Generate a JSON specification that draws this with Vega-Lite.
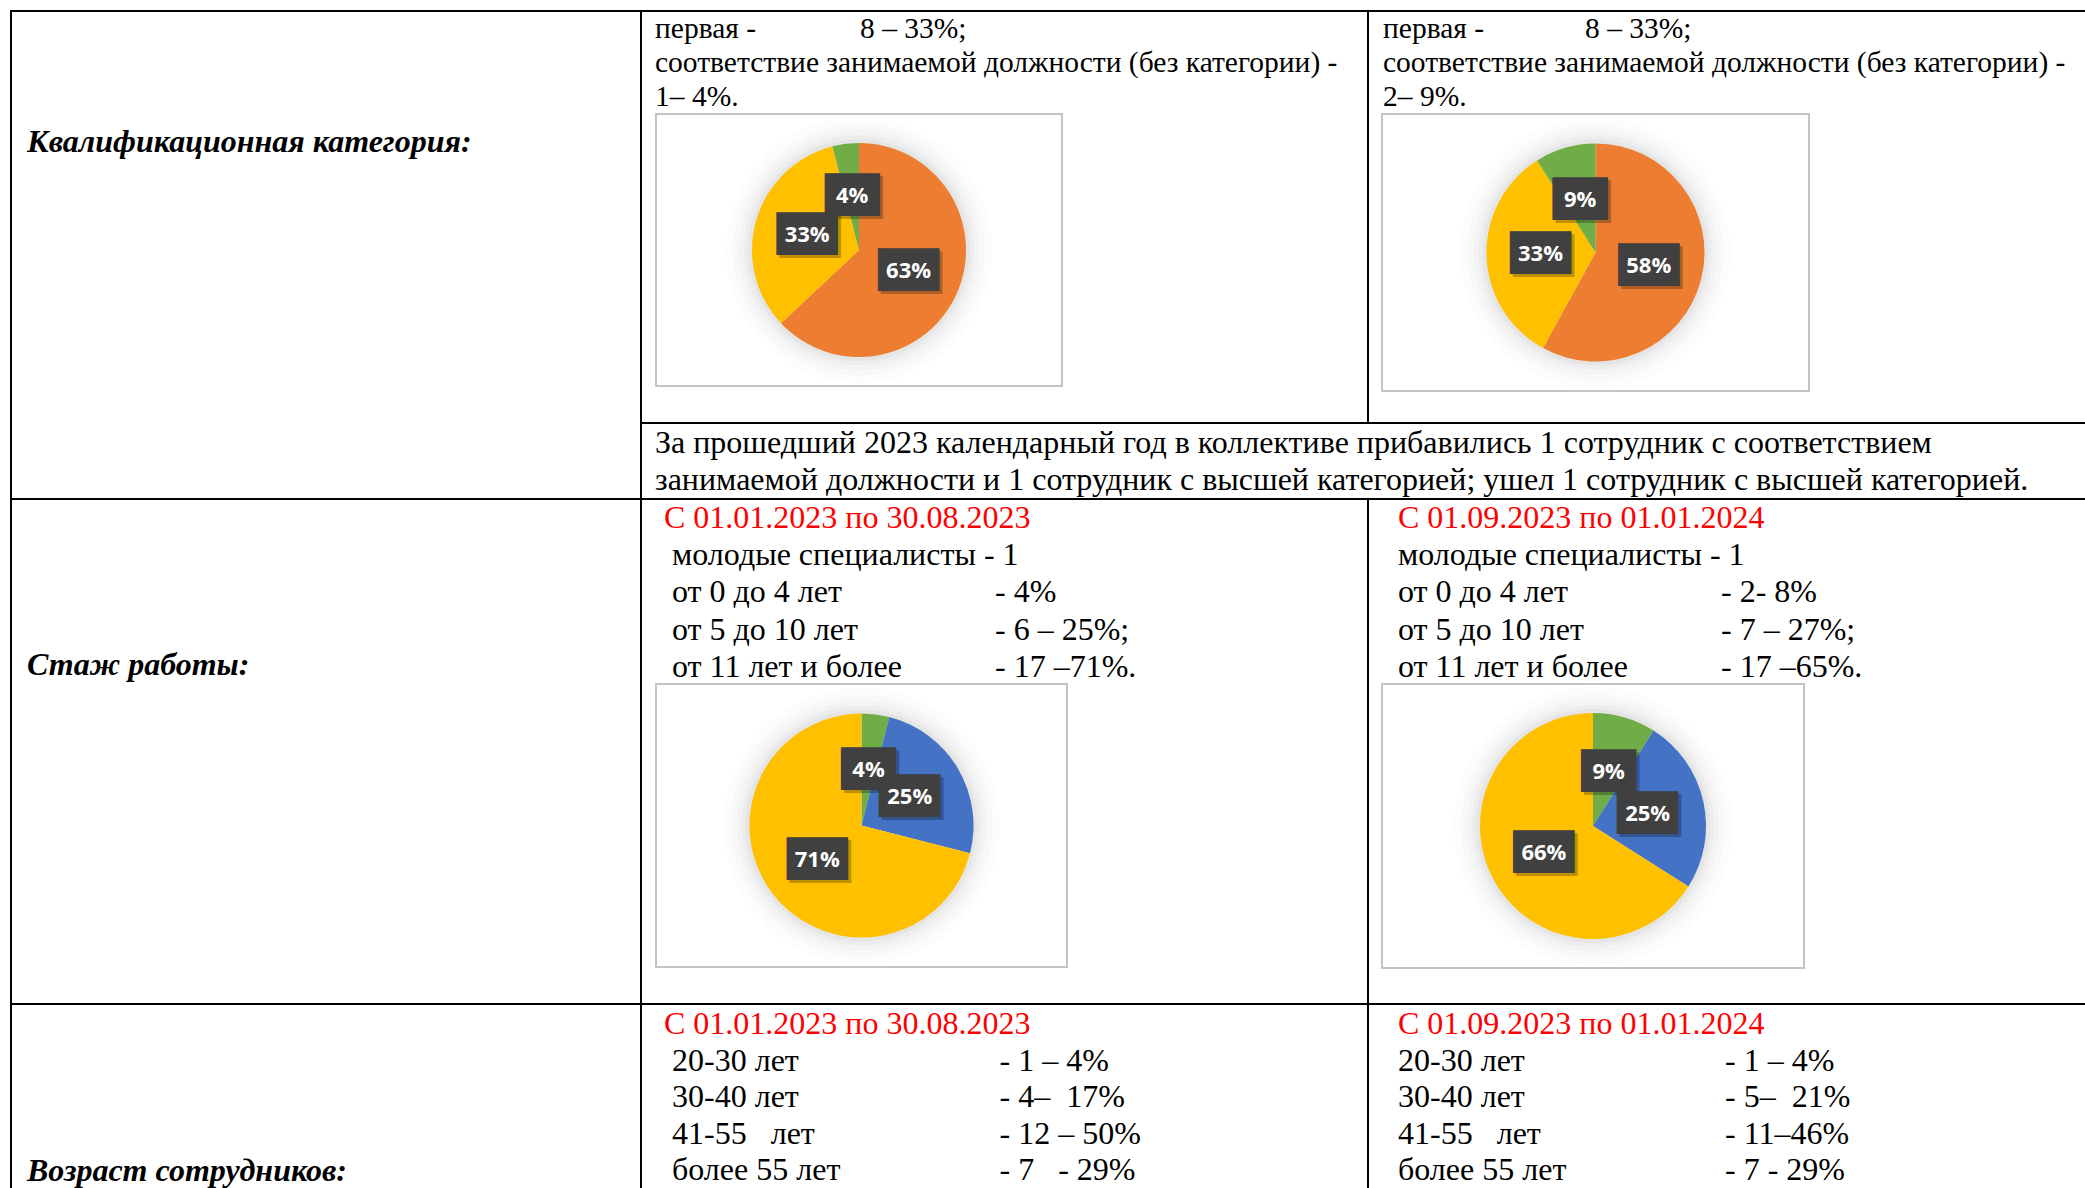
{
"$schema": "https://vega.github.io/schema/vega-lite/v6.json",
"background": "white",
"padding": {"left": 10, "top": 10, "right": 0, "bottom": 0},
"config": {
  "view": {"stroke": null},
  "text": {"font": "Liberation Serif", "fontSize": 32, "color": "black", "align": "left", "baseline": "middle"},
  "concat": {"spacing": 0}
},
"datasets": {
  "l1": [{"line": 0, "col": 0, "text": "Квалификационная категория:"}],
  "l2": [{"line": 0, "col": 0, "text": "Стаж работы:"}],
  "l3": [{"line": 0, "col": 0, "text": "Возраст сотрудников:"}],
  "q1": [
    {"line": 0, "col": 0, "text": "первая -"},
    {"line": 0, "col": 1, "text": "8 – 33%;"},
    {"line": 1, "col": 0, "text": "соответствие занимаемой должности (без категории) -"},
    {"line": 2, "col": 0, "text": "1– 4%."}
  ],
  "q2": [
    {"line": 0, "col": 0, "text": "первая -"},
    {"line": 0, "col": 1, "text": "8 – 33%;"},
    {"line": 1, "col": 0, "text": "соответствие занимаемой должности (без категории) -"},
    {"line": 2, "col": 0, "text": "2– 9%."}
  ],
  "t": [
    {"line": 0, "col": 0, "text": "За прошедший 2023 календарный год в коллективе прибавились 1 сотрудник с соответствием"},
    {"line": 1, "col": 0, "text": "занимаемой должности и 1 сотрудник с высшей категорией; ушел 1 сотрудник с высшей категорией."}
  ],
  "s1": [
    {"kind": "h", "line": 0, "col": 0, "text": "С 01.01.2023 по 30.08.2023"},
    {"kind": "b", "line": 1, "col": 0, "text": "молодые специалисты - 1"},
    {"kind": "b", "line": 2, "col": 0, "text": "от 0 до 4 лет"},
    {"kind": "b", "line": 2, "col": 1, "text": "- 4%"},
    {"kind": "b", "line": 3, "col": 0, "text": "от 5 до 10 лет"},
    {"kind": "b", "line": 3, "col": 1, "text": "- 6 – 25%;"},
    {"kind": "b", "line": 4, "col": 0, "text": "от 11 лет и более"},
    {"kind": "b", "line": 4, "col": 1, "text": "- 17 –71%."}
  ],
  "s2": [
    {"kind": "h", "line": 0, "col": 0, "text": "С 01.09.2023 по 01.01.2024"},
    {"kind": "b", "line": 1, "col": 0, "text": "молодые специалисты - 1"},
    {"kind": "b", "line": 2, "col": 0, "text": "от 0 до 4 лет"},
    {"kind": "b", "line": 2, "col": 1, "text": "- 2- 8%"},
    {"kind": "b", "line": 3, "col": 0, "text": "от 5 до 10 лет"},
    {"kind": "b", "line": 3, "col": 1, "text": "- 7 – 27%;"},
    {"kind": "b", "line": 4, "col": 0, "text": "от 11 лет и более"},
    {"kind": "b", "line": 4, "col": 1, "text": "- 17 –65%."}
  ],
  "a1": [
    {"kind": "h", "line": 0, "col": 0, "text": "С 01.01.2023 по 30.08.2023"},
    {"kind": "b", "line": 1, "col": 0, "text": "20-30 лет"},
    {"kind": "b", "line": 1, "col": 1, "text": "- 1 – 4%"},
    {"kind": "b", "line": 2, "col": 0, "text": "30-40 лет"},
    {"kind": "b", "line": 2, "col": 1, "text": "- 4–\u00a0 17%"},
    {"kind": "b", "line": 3, "col": 0, "text": "41-55\u00a0\u00a0 лет"},
    {"kind": "b", "line": 3, "col": 1, "text": "- 12 – 50%"},
    {"kind": "b", "line": 4, "col": 0, "text": "более 55 лет"},
    {"kind": "b", "line": 4, "col": 1, "text": "- 7\u00a0\u00a0 - 29%"}
  ],
  "a2": [
    {"kind": "h", "line": 0, "col": 0, "text": "С 01.09.2023 по 01.01.2024"},
    {"kind": "b", "line": 1, "col": 0, "text": "20-30 лет"},
    {"kind": "b", "line": 1, "col": 1, "text": "- 1 – 4%"},
    {"kind": "b", "line": 2, "col": 0, "text": "30-40 лет"},
    {"kind": "b", "line": 2, "col": 1, "text": "- 5–\u00a0 21%"},
    {"kind": "b", "line": 3, "col": 0, "text": "41-55\u00a0\u00a0 лет"},
    {"kind": "b", "line": 3, "col": 1, "text": "- 11–46%"},
    {"kind": "b", "line": 4, "col": 0, "text": "более 55 лет"},
    {"kind": "b", "line": 4, "col": 1, "text": "- 7 - 29%"}
  ],
  "p1": [
    {"cat": "высшая", "value": 63, "label": "63%", "order": 1},
    {"cat": "первая", "value": 33, "label": "33%", "order": 2},
    {"cat": "соответствие", "value": 4, "label": "4%", "order": 3}
  ],
  "p2": [
    {"cat": "высшая", "value": 58, "label": "58%", "order": 1},
    {"cat": "первая", "value": 33, "label": "33%", "order": 2},
    {"cat": "соответствие", "value": 9, "label": "9%", "order": 3}
  ],
  "p3": [
    {"cat": "от 0 до 4 лет", "value": 4, "label": "4%", "order": 1},
    {"cat": "от 5 до 10 лет", "value": 25, "label": "25%", "order": 2},
    {"cat": "от 11 лет и более", "value": 71, "label": "71%", "order": 3}
  ],
  "p4": [
    {"cat": "от 0 до 4 лет", "value": 9, "label": "9%", "order": 1},
    {"cat": "от 5 до 10 лет", "value": 25, "label": "25%", "order": 2},
    {"cat": "от 11 лет и более", "value": 66, "label": "66%", "order": 3}
  ]
},
"spacing": 0,
"vconcat": [
  {"width": 2099, "height": 2, "data": {"values": []}, "mark": "point", "view": {"fill": "black", "stroke": null}},
  {"spacing": 0, "hconcat": [
    {"width": 2, "height": 486, "data": {"values": []}, "mark": "point", "view": {"fill": "black", "stroke": null}},
    {"width": 628, "height": 486, "data": {"name": "l1"}, "mark": {"type": "text", "fontSize": 32, "fontStyle": "italic", "fontWeight": "bold"},
     "encoding": {"x": {"field": "col", "type": "quantitative", "scale": {"domain": [0, 1], "range": [15, 100]}, "axis": null},
                  "y": {"field": "line", "type": "quantitative", "scale": {"domain": [0, 1], "range": [130, 164]}, "axis": null},
                  "text": {"field": "text", "type": "nominal"}}},
    {"width": 2, "height": 486, "data": {"values": []}, "mark": "point", "view": {"fill": "black", "stroke": null}},
    {"spacing": 0, "vconcat": [
      {"spacing": 0, "hconcat": [
        {"spacing": 0, "vconcat": [
          {"width": 725, "height": 101, "data": {"name": "q1"}, "mark": {"type": "text", "fontSize": 29.5},
           "encoding": {"x": {"field": "col", "type": "quantitative", "scale": {"domain": [0, 1], "range": [13, 218]}, "axis": null},
                        "y": {"field": "line", "type": "quantitative", "scale": {"domain": [0, 1], "range": [17, 51]}, "axis": null},
                        "text": {"field": "text", "type": "nominal"}}},
          {"spacing": 0, "hconcat": [
            {"width": 13, "height": 1, "data": {"values": []}, "mark": "point"},
            {"width": 406, "height": 272, "view": {"stroke": "#C4C4C4", "strokeWidth": 2, "fill": "white"},
             "data": {"name": "p1"},
             "encoding": {"theta": {"field": "value", "type": "quantitative", "stack": true}, "order": {"field": "order", "type": "quantitative"}},
             "layer": [
               {"mark": {"type": "arc", "outerRadius": 133, "color": "black", "opacity": 0.012}},
               {"mark": {"type": "arc", "outerRadius": 126, "color": "black", "opacity": 0.015}},
               {"mark": {"type": "arc", "outerRadius": 120, "color": "black", "opacity": 0.02}},
               {"mark": {"type": "arc", "outerRadius": 115, "color": "black", "opacity": 0.025}},
               {"mark": {"type": "arc", "outerRadius": 111, "color": "black", "opacity": 0.03}},
               {"mark": {"type": "arc", "outerRadius": 107}, "encoding": {"color": {"field": "cat", "type": "nominal", "legend": null, "scale": {"domain": ["высшая", "первая", "соответствие", "от 0 до 4 лет", "от 5 до 10 лет", "от 11 лет и более"], "range": ["#ED7D31", "#FFC000", "#70AD47", "#70AD47", "#4472C4", "#FFC000"]}}}},
               {"mark": {"type": "text", "radius": 54, "font": "DejaVu Sans", "fontSize": 36, "color": "black", "opacity": 0.25, "align": "center", "dx": 3, "dy": 3}, "encoding": {"text": {"condition": {"test": "datum.value < 10", "value": "▐█▌"}, "value": "▕██▏"}}},
               {"mark": {"type": "text", "radius": 54, "font": "DejaVu Sans", "fontSize": 36, "color": "#404040", "align": "center"}, "encoding": {"text": {"condition": {"test": "datum.value < 10", "value": "▐█▌"}, "value": "▕██▏"}}},
               {"mark": {"type": "text", "radius": 54, "font": "Open Sans", "fontSize": 22, "fontWeight": "bold", "color": "white", "align": "center"}, "encoding": {"text": {"field": "label", "type": "nominal"}}}
             ]}
          ]}
        ]},
        {"width": 2, "height": 410, "data": {"values": []}, "mark": "point", "view": {"fill": "black", "stroke": null}},
        {"spacing": 0, "vconcat": [
          {"width": 740, "height": 101, "data": {"name": "q2"}, "mark": {"type": "text", "fontSize": 29.5},
           "encoding": {"x": {"field": "col", "type": "quantitative", "scale": {"domain": [0, 1], "range": [14, 216]}, "axis": null},
                        "y": {"field": "line", "type": "quantitative", "scale": {"domain": [0, 1], "range": [17, 51]}, "axis": null},
                        "text": {"field": "text", "type": "nominal"}}},
          {"spacing": 0, "hconcat": [
            {"width": 12, "height": 1, "data": {"values": []}, "mark": "point"},
            {"width": 427, "height": 277, "view": {"stroke": "#C4C4C4", "strokeWidth": 2, "fill": "white"},
             "data": {"name": "p2"},
             "encoding": {"theta": {"field": "value", "type": "quantitative", "stack": true}, "order": {"field": "order", "type": "quantitative"}},
             "layer": [
               {"mark": {"type": "arc", "outerRadius": 135, "color": "black", "opacity": 0.012}},
               {"mark": {"type": "arc", "outerRadius": 128, "color": "black", "opacity": 0.015}},
               {"mark": {"type": "arc", "outerRadius": 122, "color": "black", "opacity": 0.02}},
               {"mark": {"type": "arc", "outerRadius": 117, "color": "black", "opacity": 0.025}},
               {"mark": {"type": "arc", "outerRadius": 113, "color": "black", "opacity": 0.03}},
               {"mark": {"type": "arc", "outerRadius": 109}, "encoding": {"color": {"field": "cat", "type": "nominal", "legend": null, "scale": {"domain": ["высшая", "первая", "соответствие", "от 0 до 4 лет", "от 5 до 10 лет", "от 11 лет и более"], "range": ["#ED7D31", "#FFC000", "#70AD47", "#70AD47", "#4472C4", "#FFC000"]}}}},
               {"mark": {"type": "text", "radius": 55, "font": "DejaVu Sans", "fontSize": 36, "color": "black", "opacity": 0.25, "align": "center", "dx": 3, "dy": 3}, "encoding": {"text": {"condition": {"test": "datum.value < 10", "value": "▐█▌"}, "value": "▕██▏"}}},
               {"mark": {"type": "text", "radius": 55, "font": "DejaVu Sans", "fontSize": 36, "color": "#404040", "align": "center"}, "encoding": {"text": {"condition": {"test": "datum.value < 10", "value": "▐█▌"}, "value": "▕██▏"}}},
               {"mark": {"type": "text", "radius": 55, "font": "Open Sans", "fontSize": 22, "fontWeight": "bold", "color": "white", "align": "center"}, "encoding": {"text": {"field": "label", "type": "nominal"}}}
             ]}
          ]}
        ]}
      ]},
      {"width": 1467, "height": 2, "data": {"values": []}, "mark": "point", "view": {"fill": "black", "stroke": null}},
      {"width": 1467, "height": 74, "data": {"name": "t"}, "mark": "text",
       "encoding": {"x": {"field": "col", "type": "quantitative", "scale": {"domain": [0, 1], "range": [13, 100]}, "axis": null},
                    "y": {"field": "line", "type": "quantitative", "scale": {"domain": [0, 1], "range": [19, 56]}, "axis": null},
                    "text": {"field": "text", "type": "nominal"}}}
    ]}
  ]},
  {"width": 2099, "height": 2, "data": {"values": []}, "mark": "point", "view": {"fill": "black", "stroke": null}},
  {"spacing": 0, "hconcat": [
    {"width": 2, "height": 503, "data": {"values": []}, "mark": "point", "view": {"fill": "black", "stroke": null}},
    {"width": 628, "height": 503, "data": {"name": "l2"}, "mark": {"type": "text", "fontSize": 32, "fontStyle": "italic", "fontWeight": "bold"},
     "encoding": {"x": {"field": "col", "type": "quantitative", "scale": {"domain": [0, 1], "range": [15, 100]}, "axis": null},
                  "y": {"field": "line", "type": "quantitative", "scale": {"domain": [0, 1], "range": [165, 200]}, "axis": null},
                  "text": {"field": "text", "type": "nominal"}}},
    {"width": 2, "height": 503, "data": {"values": []}, "mark": "point", "view": {"fill": "black", "stroke": null}},
    {"spacing": 0, "vconcat": [
      {"width": 725, "height": 183, "data": {"name": "s1"},
       "encoding": {"x": {"field": "col", "type": "quantitative", "scale": {"domain": [0, 1], "range": [30, 353]}, "axis": null},
                    "y": {"field": "line", "type": "quantitative", "scale": {"domain": [0, 1], "range": [18, 55.2]}, "axis": null},
                    "text": {"field": "text", "type": "nominal"}},
       "layer": [
         {"transform": [{"filter": "datum.kind === 'h'"}], "mark": {"type": "text", "color": "#FF0000", "dx": -8}},
         {"transform": [{"filter": "datum.kind !== 'h'"}], "mark": {"type": "text"}}
       ]},
      {"spacing": 0, "hconcat": [
        {"width": 13, "height": 1, "data": {"values": []}, "mark": "point"},
        {"width": 411, "height": 283, "view": {"stroke": "#C4C4C4", "strokeWidth": 2, "fill": "white"},
         "data": {"name": "p3"},
         "encoding": {"theta": {"field": "value", "type": "quantitative", "stack": true}, "order": {"field": "order", "type": "quantitative"}},
         "layer": [
           {"mark": {"type": "arc", "outerRadius": 138, "color": "black", "opacity": 0.012}},
           {"mark": {"type": "arc", "outerRadius": 131, "color": "black", "opacity": 0.015}},
           {"mark": {"type": "arc", "outerRadius": 125, "color": "black", "opacity": 0.02}},
           {"mark": {"type": "arc", "outerRadius": 120, "color": "black", "opacity": 0.025}},
           {"mark": {"type": "arc", "outerRadius": 116, "color": "black", "opacity": 0.03}},
           {"mark": {"type": "arc", "outerRadius": 112}, "encoding": {"color": {"field": "cat", "type": "nominal", "legend": null, "scale": {"domain": ["высшая", "первая", "соответствие", "от 0 до 4 лет", "от 5 до 10 лет", "от 11 лет и более"], "range": ["#ED7D31", "#FFC000", "#70AD47", "#70AD47", "#4472C4", "#FFC000"]}}}},
           {"mark": {"type": "text", "radius": 56, "font": "DejaVu Sans", "fontSize": 36, "color": "black", "opacity": 0.25, "align": "center", "dx": 3, "dy": 3}, "encoding": {"text": {"condition": {"test": "datum.value < 10", "value": "▐█▌"}, "value": "▕██▏"}}},
           {"mark": {"type": "text", "radius": 56, "font": "DejaVu Sans", "fontSize": 36, "color": "#404040", "align": "center"}, "encoding": {"text": {"condition": {"test": "datum.value < 10", "value": "▐█▌"}, "value": "▕██▏"}}},
           {"mark": {"type": "text", "radius": 56, "font": "Open Sans", "fontSize": 22, "fontWeight": "bold", "color": "white", "align": "center"}, "encoding": {"text": {"field": "label", "type": "nominal"}}}
         ]}
      ]}
    ]},
    {"width": 2, "height": 503, "data": {"values": []}, "mark": "point", "view": {"fill": "black", "stroke": null}},
    {"spacing": 0, "vconcat": [
      {"width": 740, "height": 183, "data": {"name": "s2"},
       "encoding": {"x": {"field": "col", "type": "quantitative", "scale": {"domain": [0, 1], "range": [29, 352]}, "axis": null},
                    "y": {"field": "line", "type": "quantitative", "scale": {"domain": [0, 1], "range": [18, 55.2]}, "axis": null},
                    "text": {"field": "text", "type": "nominal"}},
       "layer": [
         {"transform": [{"filter": "datum.kind === 'h'"}], "mark": {"type": "text", "color": "#FF0000"}},
         {"transform": [{"filter": "datum.kind !== 'h'"}], "mark": {"type": "text"}}
       ]},
      {"spacing": 0, "hconcat": [
        {"width": 12, "height": 1, "data": {"values": []}, "mark": "point"},
        {"width": 422, "height": 284, "view": {"stroke": "#C4C4C4", "strokeWidth": 2, "fill": "white"},
         "data": {"name": "p4"},
         "encoding": {"theta": {"field": "value", "type": "quantitative", "stack": true}, "order": {"field": "order", "type": "quantitative"}},
         "layer": [
           {"mark": {"type": "arc", "outerRadius": 139, "color": "black", "opacity": 0.012}},
           {"mark": {"type": "arc", "outerRadius": 132, "color": "black", "opacity": 0.015}},
           {"mark": {"type": "arc", "outerRadius": 126, "color": "black", "opacity": 0.02}},
           {"mark": {"type": "arc", "outerRadius": 121, "color": "black", "opacity": 0.025}},
           {"mark": {"type": "arc", "outerRadius": 117, "color": "black", "opacity": 0.03}},
           {"mark": {"type": "arc", "outerRadius": 113}, "encoding": {"color": {"field": "cat", "type": "nominal", "legend": null, "scale": {"domain": ["высшая", "первая", "соответствие", "от 0 до 4 лет", "от 5 до 10 лет", "от 11 лет и более"], "range": ["#ED7D31", "#FFC000", "#70AD47", "#70AD47", "#4472C4", "#FFC000"]}}}},
           {"mark": {"type": "text", "radius": 56, "font": "DejaVu Sans", "fontSize": 36, "color": "black", "opacity": 0.25, "align": "center", "dx": 3, "dy": 3}, "encoding": {"text": {"condition": {"test": "datum.value < 10", "value": "▐█▌"}, "value": "▕██▏"}}},
           {"mark": {"type": "text", "radius": 56, "font": "DejaVu Sans", "fontSize": 36, "color": "#404040", "align": "center"}, "encoding": {"text": {"condition": {"test": "datum.value < 10", "value": "▐█▌"}, "value": "▕██▏"}}},
           {"mark": {"type": "text", "radius": 56, "font": "Open Sans", "fontSize": 22, "fontWeight": "bold", "color": "white", "align": "center"}, "encoding": {"text": {"field": "label", "type": "nominal"}}}
         ]}
      ]}
    ]}
  ]},
  {"width": 2099, "height": 2, "data": {"values": []}, "mark": "point", "view": {"fill": "black", "stroke": null}},
  {"spacing": 0, "hconcat": [
    {"width": 2, "height": 200, "data": {"values": []}, "mark": "point", "view": {"fill": "black", "stroke": null}},
    {"width": 628, "height": 200, "data": {"name": "l3"}, "mark": {"type": "text", "fontSize": 32, "fontStyle": "italic", "fontWeight": "bold"},
     "encoding": {"x": {"field": "col", "type": "quantitative", "scale": {"domain": [0, 1], "range": [15, 100]}, "axis": null},
                  "y": {"field": "line", "type": "quantitative", "scale": {"domain": [0, 1], "range": [166, 200]}, "axis": null},
                  "text": {"field": "text", "type": "nominal"}}},
    {"width": 2, "height": 200, "data": {"values": []}, "mark": "point", "view": {"fill": "black", "stroke": null}},
    {"width": 725, "height": 200, "data": {"name": "a1"},
     "encoding": {"x": {"field": "col", "type": "quantitative", "scale": {"domain": [0, 1], "range": [30, 357.5]}, "axis": null},
                  "y": {"field": "line", "type": "quantitative", "scale": {"domain": [0, 1], "range": [19, 55.5]}, "axis": null},
                  "text": {"field": "text", "type": "nominal"}},
     "layer": [
       {"transform": [{"filter": "datum.kind === 'h'"}], "mark": {"type": "text", "color": "#FF0000", "dx": -8}},
       {"transform": [{"filter": "datum.kind !== 'h'"}], "mark": {"type": "text"}}
     ]},
    {"width": 2, "height": 200, "data": {"values": []}, "mark": "point", "view": {"fill": "black", "stroke": null}},
    {"width": 740, "height": 200, "data": {"name": "a2"},
     "encoding": {"x": {"field": "col", "type": "quantitative", "scale": {"domain": [0, 1], "range": [29, 356]}, "axis": null},
                  "y": {"field": "line", "type": "quantitative", "scale": {"domain": [0, 1], "range": [19, 55.5]}, "axis": null},
                  "text": {"field": "text", "type": "nominal"}},
     "layer": [
       {"transform": [{"filter": "datum.kind === 'h'"}], "mark": {"type": "text", "color": "#FF0000"}},
       {"transform": [{"filter": "datum.kind !== 'h'"}], "mark": {"type": "text"}}
     ]}
  ]}
]
}
